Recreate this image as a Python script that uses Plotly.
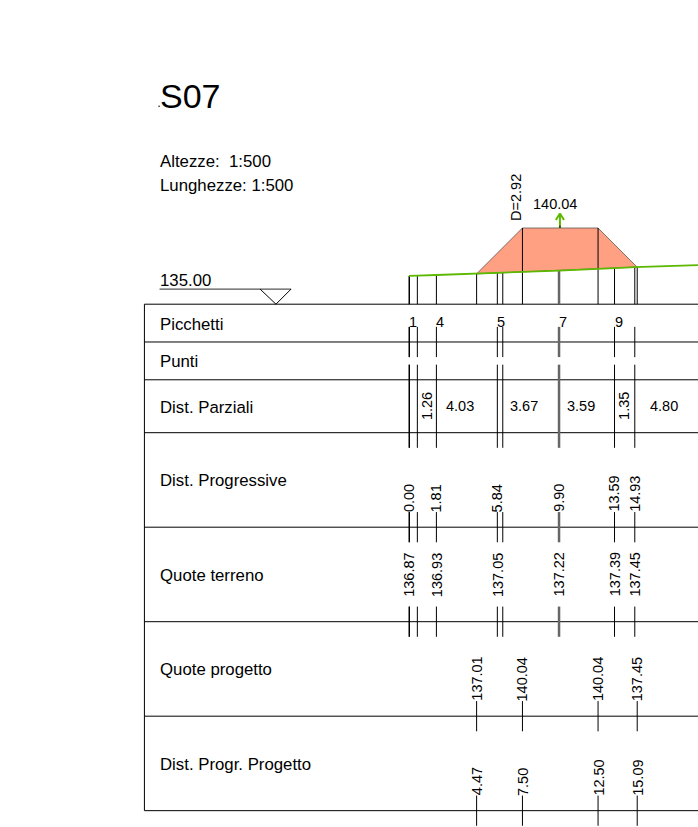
import plotly.graph_objects as go

# everything is in metres, 1:500 both ways, datum 135.00 is the top of the table
datum = 135.0

row_names = ["Picchetti", "Punti", "Dist. Parziali", "Dist. Progressive",
             "Quote terreno", "Quote progetto", "Dist. Progr. Progetto"]
row_heights = [2.5, 2.5, 3.5, 6.25, 6.25, 6.25, 6.25]

ground_x = [0.0, 0.03, 0.55, 1.81, 5.84, 6.2, 13.59, 14.93]
ground_z = [136.87, 136.87, 136.89, 136.93, 137.05, 137.07, 137.39, 137.45]
mid_x = 9.92
mid_z = 137.22
ground_end_x = 19.73
ground_end_z = 137.6

prog_x = [0.0, 1.81, 5.84, 9.90, 13.59, 14.93]
prog_labels = ["0.00", "1.81", "5.84", "9.90", "13.59", "14.93"]
quote_labels = ["136.87", "136.93", "137.05", "137.22", "137.39", "137.45"]

picchetti_x = [0.0, 1.81, 5.84, 9.90, 13.59]
picchetti_labels = ["1", "4", "5", "7", "9"]

parz_x_h = [3.4, 7.6, 11.35, 16.85]
parz_labels_h = ["4.03", "3.67", "3.59", "4.80"]
parz_x_v = [1.18, 14.26]
parz_labels_v = ["1.26", "1.35"]

design_x = [4.47, 7.50, 12.50, 15.09]
design_z = [137.01, 140.04, 140.04, 137.45]
design_quote = ["137.01", "140.04", "140.04", "137.45"]
design_prog = ["4.47", "7.50", "12.50", "15.09"]

top_x = 9.98
top_label = "140.04"
depth_label = "D=2.92"

GREEN = "#5cb800"
FILL = "#ffa082"
FONT = "Liberation Sans, Arial, sans-serif"

X0, X1 = -27.05, 19.11
Y0, Y1 = 100.42, 155.12
LEFT = -17.5
TEXT_X = -16.5
NUDGE = 0.06  # left hand texts sit about a pixel under the row centre
NUM = 14.5
SMALL = 16.8

# row boundaries
lines = [datum]
for h in row_heights:
    lines.append(lines[-1] - h)


def segs(pairs):
    xs, ys = [], []
    for (a, b) in pairs:
        xs += [a[0], b[0], None]
        ys += [a[1], b[1], None]
    return xs, ys


def add_lines(fig, pairs, color="black", width=1):
    xs, ys = segs(pairs)
    fig.add_trace(go.Scatter(x=xs, y=ys, mode="lines", hoverinfo="skip",
                             line=dict(color=color, width=width)))


def label(fig, x, y, text, size=NUM, angle=0, xa="center", ya="middle"):
    fig.add_annotation(x=x, y=y, text=text, showarrow=False, textangle=angle,
                       xanchor=xa, yanchor=ya, borderpad=0, borderwidth=0,
                       font=dict(family=FONT, size=size, color="black"))


def row_ticks(x):
    return [((x, lines[1] + 1), (x, lines[1] - 1)),
            ((x, lines[2] + 1), (x, lines[3] - 1)),
            ((x, lines[4] + 1), (x, lines[4] - 1)),
            ((x, lines[5] + 1), (x, lines[5] - 1))]


fig = go.Figure()

# embankment, bottom edge runs on the ground line
poly_x = design_x + [14.93, 13.59, 9.90, 5.84, design_x[0]]
poly_z = design_z + [137.45, 137.39, 137.22, 137.05, design_z[0]]
fig.add_trace(go.Scatter(x=poly_x, y=poly_z, mode="lines", fill="toself",
                         fillcolor=FILL, hoverinfo="skip",
                         line=dict(color="rgba(70,70,70,0.7)", width=1)))

# table
add_lines(fig, [((LEFT, z), (X1, z)) for z in lines])
add_lines(fig, [((LEFT, lines[0]), (LEFT, lines[-1]))])

# datum mark
add_lines(fig, [((TEXT_X, datum + 1), (-7.8, datum + 1))], color="#555555", width=1.2)
add_lines(fig, [((-9.85, datum + 1), (-8.8, datum)), ((-8.8, datum), (-7.8, datum + 1))])

# verticals in the profile
add_lines(fig, [((x, datum), (x, z)) for x, z in zip(ground_x, ground_z)])
add_lines(fig, [((x, datum), (x, z)) for x, z in zip(design_x, design_z)])

# ticks through the rows
pairs = []
for x in ground_x:
    pairs += row_ticks(x)
for x in design_x:
    pairs.append(((x, lines[6] + 1), (x, lines[6] - 1)))
    pairs.append(((x, lines[7] + 1), (x, lines[7] - 1)))
add_lines(fig, pairs)

# the doubled line at 9.90 reads as one wide grey stroke
add_lines(fig, row_ticks(mid_x) + [((mid_x, datum), (mid_x, mid_z))], color="#666666", width=2.5)

# ground line
line_x = ground_x[:6] + [mid_x] + ground_x[6:] + [ground_end_x]
line_z = ground_z[:6] + [mid_z] + ground_z[6:] + [ground_end_z]
fig.add_trace(go.Scatter(x=line_x, y=line_z, mode="lines", hoverinfo="skip",
                         line=dict(color=GREEN, width=1.8)))

# top arrow
add_lines(fig, [((top_x, 140.04), (top_x, 141.0)),
                ((top_x - 0.27, 140.57), (top_x, 141.0)),
                ((top_x, 141.0), (top_x + 0.27, 140.57))], color=GREEN, width=2)
add_lines(fig, [((top_x, 140.04), (top_x, 140.2))])

# small stray dot in front of the title
fig.add_trace(go.Scatter(x=[-16.53], y=[148.1], mode="markers", hoverinfo="skip",
                         marker=dict(size=1.5, color="black")))

# texts
label(fig, TEXT_X, 147.5, "S07", size=34, xa="left", ya="bottom")
label(fig, TEXT_X, 144.42, "Altezze:\u00a0\u00a01:500", size=SMALL, xa="left")
label(fig, TEXT_X, 142.86, "Lunghezze: 1:500", size=SMALL, xa="left")
label(fig, TEXT_X, datum + 1 - NUDGE, "135.00", size=SMALL, xa="left", ya="bottom")

for i, name in enumerate(row_names):
    label(fig, TEXT_X, (lines[i] + lines[i + 1]) / 2 - NUDGE, name, size=SMALL, xa="left")

label(fig, 9.65, 141.08, top_label, ya="bottom")
label(fig, 7.12, 140.52, depth_label, angle=-90, ya="bottom")

for x, t in zip(picchetti_x, picchetti_labels):
    label(fig, x, lines[1] + 0.8, t, xa="left", ya="bottom")
for x, t in zip(parz_x_h, parz_labels_h):
    label(fig, x, (lines[2] + lines[3]) / 2, t)
for x, t in zip(parz_x_v, parz_labels_v):
    label(fig, x, (lines[2] + lines[3]) / 2, t, angle=-90)
for x, t in zip(prog_x, prog_labels):
    label(fig, x, lines[4] + 1, t, angle=-90, ya="bottom")
for x, t in zip(prog_x, quote_labels):
    label(fig, x, lines[5] + 1.65, t, angle=-90, ya="bottom")
for x, t in zip(design_x, design_quote):
    label(fig, x, lines[6] + 1, t, angle=-90, ya="bottom")
for x, t in zip(design_x, design_prog):
    label(fig, x, lines[7] + 1, t, angle=-90, ya="bottom")

fig.update_layout(
    width=698, height=827,
    margin=dict(l=0, r=0, b=0, t=0, pad=0),
    paper_bgcolor="white", plot_bgcolor="white",
    showlegend=False, hovermode=False,
    xaxis=dict(range=[X0, X1], visible=False, fixedrange=True),
    yaxis=dict(range=[Y0, Y1], visible=False, fixedrange=True),
)

fig.write_html("out.html", config=dict(displayModeBar=False),
               post_script="document.body.style.margin='0';document.body.style.overflow='hidden';")
